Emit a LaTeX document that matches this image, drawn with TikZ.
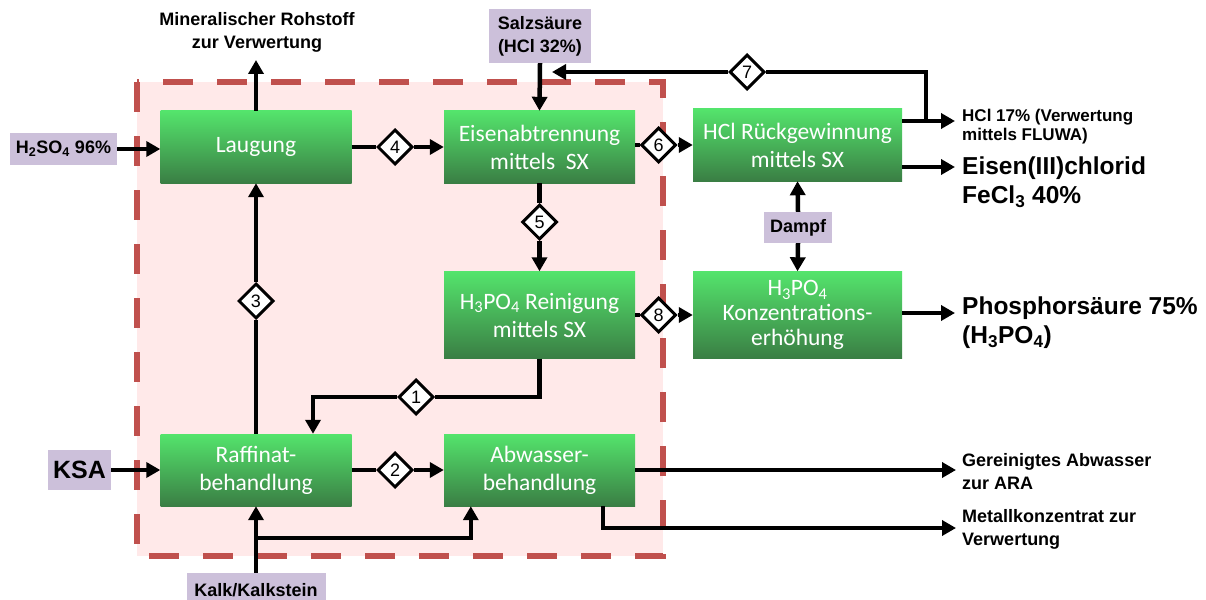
\documentclass[tikz,border=0pt]{standalone}
\usepackage{fontspec}
\setmainfont{Liberation Sans}
\newfontfamily\calibri{Carlito}
\usepackage{tikz}
\usetikzlibrary{shapes.geometric,arrows.meta}

\definecolor{lilabox}{RGB}{204,192,218}
\definecolor{rosafill}{RGB}{255,233,233}
\definecolor{rotdash}{RGB}{192,80,77}
\definecolor{gruenhell}{RGB}{84,228,108}
\definecolor{gruendunkel}{RGB}{58,126,68}

\begin{document}
\begin{tikzpicture}[x=1pt,y=-1pt]
      \tikzset{stepbox/.style={top color=gruenhell,
          bottom color=gruendunkel,
          minimum width=191pt,
          minimum height=72pt,
          inner sep=0pt,
          text=white,
          align=center,
          font=\calibri\fontsize{23.5}{28}\selectfont},
        numbox/.style={diamond,
          draw,
          line width=3pt,
          fill=white,
          minimum width=35pt,
          minimum height=35pt,
          inner sep=0pt,
          font=\fontsize{18}{18}\selectfont},
        inbox/.style={fill=lilabox,
          inner sep=0pt,
          align=center,
          font=\bfseries\fontsize{18}{23}\selectfont},
        outlbl/.style={anchor=west,
          inner sep=0pt,
          align=left,
          font=\bfseries\fontsize{18}{23}\selectfont},
        biglbl/.style={outlbl,
          font=\bfseries\fontsize{24.5}{29}\selectfont},
        line/.style={line width=4.5pt},
        flow/.style={line width=4.5pt,-{Triangle[length=14pt,width=15pt]}}
      }
      \useasboundingbox (0,0) rectangle (1206,599);
      % dashed frame
      \fill [rosafill] (137,82) rectangle (663,556);
      \draw [rotdash,line width=6pt,dash pattern=on 30pt off 24pt] (137,82) rectangle (663,556);

      % process boxes
      \node [stepbox] (laug) at (256,147) {Laugung};
      \node [stepbox] (eisen) at (539.5,147) {Eisenabtrennung\\mittels\ \ SX};
      \node [stepbox,minimum width=209pt] (hclr) at (797.5,145) {HCl Rückgewinnung\\mittels SX};
      \node [stepbox,minimum height=87pt] (rein) at (539.5,315) {H\textsubscript{3}PO\textsubscript{4} Reinigung\\mittels SX};
      \node [stepbox,minimum width=209pt,minimum height=87pt,font=\calibri\fontsize{23.5}{25}\selectfont] (konz) at (797.5,315) {H\textsubscript{3}PO\textsubscript{4}\\Konzentrations-\\erhöhung};
      \node [stepbox] (raff) at (256,470) {Raffinat-\\behandlung};
      \node [stepbox] (abw) at (539.5,470) {Abwasser-\\behandlung};

      % inputs
      \node [inbox,minimum width=107pt,minimum height=32pt] (h2so4) at (63.5,149) {H\textsubscript{2}SO\textsubscript{4} 96\%};
      \node [inbox,minimum width=102pt,minimum height=54pt] (salz) at (540,36) {Salzsäure\\(HCl 32\%)};
      \node [inbox,minimum width=68pt,minimum height=31pt] (dampf) at (798,227.5) {Dampf};
      \node [inbox,minimum width=63pt,minimum height=40pt,font=\bfseries\fontsize{25}{25}\selectfont] (ksa) at (79.5,470) {KSA};
      \node [inbox,minimum width=139pt,minimum height=34pt] (kalk) at (256,590) {Kalk/Kalkstein};

      % numbered streams
      \node [numbox] (d1) at (416,397) {1};
      \node [numbox] (d2) at (395,470) {2};
      \node [numbox] (d3) at (256,301) {3};
      \node [numbox] (d4) at (395,147) {4};
      \node [numbox] (d5) at (539.5,222) {5};
      \node [numbox] (d6) at (658.5,145) {6};
      \node [numbox] (d7) at (747,72) {7};
      \node [numbox] (d8) at (658.5,315) {8};

      % outputs
      \node [align=center,inner sep=0pt,font=\bfseries\fontsize{18}{23}\selectfont] (minrl) at (257,32) {Mineralischer Rohstoff\\zur Verwertung};
      \node [outlbl,font=\bfseries\fontsize{17}{19}\selectfont] (hcllbl) at (962,127) {HCl 17\% (Verwertung\\mittels FLUWA)};
      \node [biglbl] (fecllbl) at (962,182) {Eisen(III)chlorid\\FeCl\textsubscript{3} 40\%};
      \node [biglbl] (phoslbl) at (962,323) {Phosphorsäure 75\%\\(H\textsubscript{3}PO\textsubscript{4})};
      \node [outlbl] (abwlbl) at (962,472) {Gereinigtes Abwasser\\zur ARA};
      \node [outlbl] (metlbl) at (962,529) {Metallkonzentrat zur\\Verwertung};

      \coordinate (minout) at (256,60);
      \coordinate (hclout) at (955,121);
      \coordinate (retpt) at (926,121);
      \coordinate (retend) at (552,72);
      \coordinate (feclout) at (955,167);
      \coordinate (phosout) at (955,313);
      \coordinate (abwout) at (956,470);
      \coordinate (metout) at (956,528);
      \coordinate (kalkab) at (256,538);

      % connectors
      \draw [flow] (h2so4.east) -- (laug.west |- h2so4);
      \draw [flow] (laug.north) -- (minout);
      \draw [line] (laug.east) -- (d4.west);
      \draw [flow] (d4.east) -- (eisen.west);
      \draw [flow] (salz.south) -- (eisen.north);
      \draw [line] (eisen.east |- d6) -- (d6.west);
      \draw [flow] (d6.east) -- (hclr.west |- d6);
      \draw [flow] ([yshift=24pt]hclr.east) -- (hclout);
      \draw [line] (retpt) |- (d7.east);
      \draw [flow] (d7.west) -- (retend);
      \draw [flow] ([yshift=-22pt]hclr.east) -- (feclout);
      \draw [line] (eisen.south) -- (d5.north);
      \draw [flow] (d5.south) -- (rein.north);
      \draw [flow] (dampf.north) -- (hclr.south);
      \draw [flow] (dampf.south) -- (konz.north);
      \draw [line] (rein.east) -- (d8.west);
      \draw [flow] (d8.east) -- (konz.west);
      \draw [flow] ([yshift=2pt]konz.east) -- (phosout);
      \draw [line] (rein.south) |- (d1.east);
      \draw [flow] (d1.west) -| ([xshift=57pt]raff.north);
      \draw [line] (raff.north) -- (d3.south);
      \draw [flow] (d3.north) -- (laug.south);
      \draw [flow] (ksa.east) -- (raff.west);
      \draw [line] (raff.east) -- (d2.west);
      \draw [flow] (d2.east) -- (abw.west);
      \draw [flow] (abw.east) -- (abwout);
      \draw [flow] ([xshift=-32pt]abw.south east) |- (metout);
      \draw [flow] (kalk.north) -- (raff.south);
      \draw [flow] (kalkab) -| ([xshift=27pt]abw.south west);
    \end{tikzpicture}
\end{document}
